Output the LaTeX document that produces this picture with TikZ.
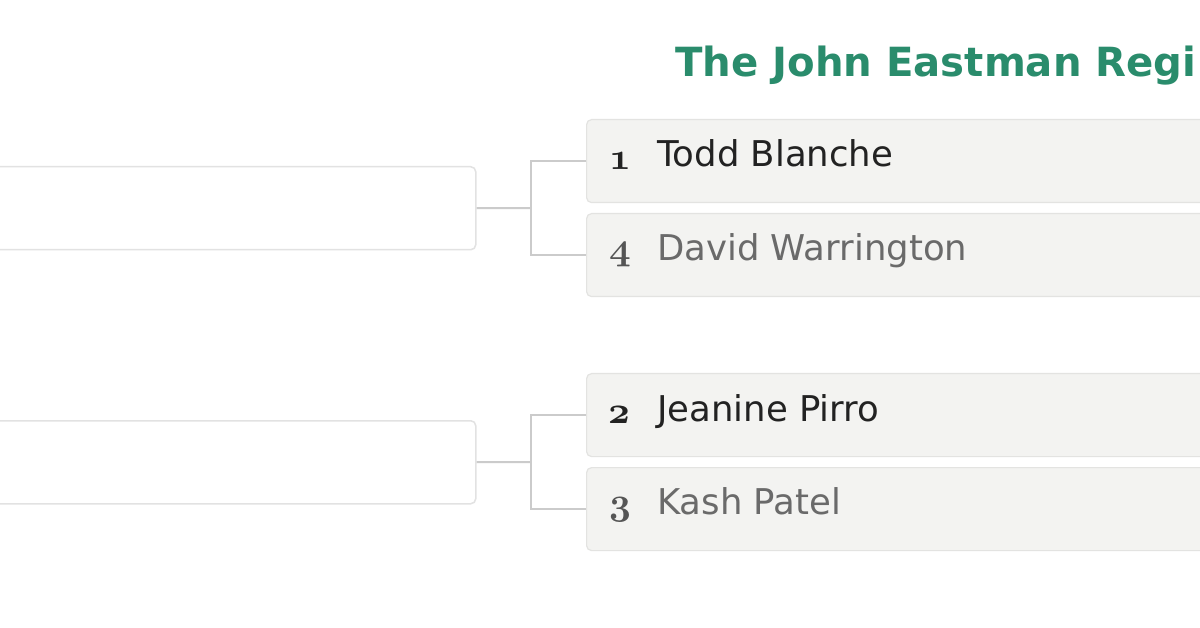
\documentclass[tikz,border=0pt]{standalone}
\usepackage{fontspec}
\newfontfamily\dejavu{DejaVu Sans}
\newfontfamily\dejavubold{DejaVuSans-Bold}[Extension=.ttf]
\definecolor{titlegreen}{HTML}{2A8C6C}
\definecolor{seedfill}{HTML}{F3F3F1}
\definecolor{seedline}{HTML}{E3E3E1}
\definecolor{connline}{HTML}{CBCBCB}
\definecolor{emptyline}{HTML}{E2E2E2}
\definecolor{namedark}{HTML}{222222}
\definecolor{namegray}{HTML}{6A6A6A}
\newcommand{\osnum}[1]{\scalebox{3.8}{\usefont{OML}{cmm}{b}{it}#1}}
\tikzset{
  seedbox/.style={draw=seedline, line width=1.2pt, fill=seedfill, rounded corners=5pt, minimum width=700pt, minimum height=83pt, anchor=north west, inner sep=0pt},
  emptybox/.style={draw=emptyline, line width=1.5pt, fill=white, rounded corners=5pt, minimum width=520pt, minimum height=83pt, anchor=north west, inner sep=0pt},
  conn/.style={draw=connline, line width=2pt},
  seednum/.style={anchor=base west, inner sep=0pt},
  seedname/.style={anchor=base west, inner sep=0pt, font=\dejavu\fontsize{35.5}{40}\selectfont},
}
\begin{document}
\begin{tikzpicture}[x=1pt,y=-1pt]
\useasboundingbox (0,0) rectangle (1200,628);
\clip (0,0) rectangle (1200,628);
\fill[white] (0,0) rectangle (1200,628);
% title
\node[anchor=base west, inner sep=0pt, text=titlegreen, font=\dejavubold\fontsize{40.2}{46}\selectfont] (title) at (675,77) {The John Eastman Regi};
% left empty boxes
\node[emptybox] (l1) at (-45,166) {};
\node[emptybox] (l2) at (-45,420) {};
% seed boxes
\node[seedbox] (b1) at (586,119) {};
\node[seedbox] (b2) at (586,213) {};
\node[seedbox] (b3) at (586,373) {};
\node[seedbox] (b4) at (586,467) {};
% junctions
\coordinate (j1) at (531,208);
\coordinate (j2) at (531,462);
\draw[conn] (l1.east) -- (j1);
\draw[conn] (b1.west) -| (j1) |- (b2.west);
\draw[conn] (l2.east) -- (j2);
\draw[conn] (b3.west) -| (j2) |- (b4.west);
% texts
\node[seednum, text=namedark] (n1) at (609,170) {\osnum{1}};
\node[seedname, text=namedark] (t1) at (657,167) {Todd Blanche};
\node[seednum, text=namegray!80!black] (n4) at (609,260) {\osnum{4}};
\node[seedname, text=namegray] (t4) at (657,261) {David Warrington};
\node[seednum, text=namedark] (n2) at (608,424) {\osnum{2}};
\node[seedname, text=namedark] (t2) at (657,421) {Jeanine Pirro};
\node[seednum, text=namegray!80!black] (n3) at (609,514) {\osnum{3}};
\node[seedname, text=namegray] (t3) at (657,514) {Kash Patel};
\end{tikzpicture}
\end{document}
